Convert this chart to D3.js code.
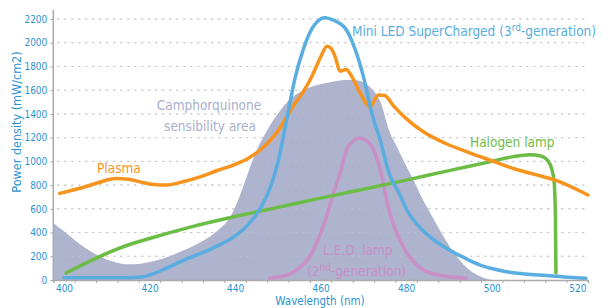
<!DOCTYPE html>
<html>
<head>
<meta charset="utf-8">
<script src="https://cdn.jsdelivr.net/npm/d3@7"></script>
<style>
  body { margin: 0; background: #fff; }
  svg { display: block; font-family: "DejaVu Sans Condensed", "DejaVu Sans", sans-serif; }
</style>
</head>
<body>
<svg id="chart" width="603" height="308"></svg>
<script>
// Data (wavelength nm, power density mW/cm2)
const xLabels = [400, 420, 440, 460, 480, 500, 520];
const yTicks = [0, 200, 400, 600, 800, 1000, 1200, 1400, 1600, 1800, 2000, 2200];

const camphorquinone = [
    [397.5, 480], [400, 410], [404, 295], [408, 205], [412, 150], [415, 132], [418, 138],
    [421, 160], [425, 205], [428, 250], [432, 320], [436, 420], [439, 540], [441, 700],
    [443, 900], [445, 1090], [447, 1230], [449, 1350], [451, 1450], [453, 1530], [455, 1580],
    [458, 1630], [462, 1665], [466, 1685], [468, 1685], [470, 1665], [472, 1610], [474, 1500],
    [476, 1260], [478, 1110], [480, 960], [482, 820], [484, 670], [486, 540], [488, 410],
    [490, 290], [492, 190], [494, 110], [496, 55], [498, 20], [500, 0]
];

const miniLed = [
    [400, 20], [405, 20], [410, 20], [415, 20], [418, 25], [420, 42], [424, 100], [428, 168],
    [432, 225], [436, 290], [440, 370], [443, 465], [446, 610], [448, 760], [450, 990],
    [452, 1340], [454, 1700], [456, 1950], [458, 2120], [460, 2200], [461, 2210],
    [463, 2190], [466, 2110], [468, 1950], [470, 1714], [472, 1400], [474, 1170], [476, 900],
    [478.5, 720], [480, 600], [483, 450], [486, 350], [490, 255], [494, 180], [497, 130],
    [502, 80], [506, 56], [512, 40], [517, 25], [522, 14]
];

const plasma = [
    [399, 730], [404, 775], [408, 820], [412, 855], [415, 850], [418, 825], [421, 805],
    [424, 800], [428, 830], [432, 872], [436, 925], [440, 975], [443, 1025], [446, 1100],
    [448, 1170], [450, 1255], [452, 1370], [454, 1490], [456, 1590], [458, 1720], [460, 1880],
    [461.5, 1970], [462.5, 1950], [463.5, 1870], [464.5, 1760], [466, 1775], [467.2, 1720],
    [469.5, 1560], [471.5, 1460], [473.5, 1560], [475, 1555], [477, 1470], [480, 1360],
    [484, 1250], [489, 1155], [495, 1070], [500, 1005], [505, 940], [510, 890], [515, 840],
    [522.5, 716]
];

const halogen = [
    [400.5, 60], [405, 140], [410, 225], [415, 295], [420, 350], [430, 450], [440, 535],
    [450, 612], [460, 690], [470, 765], [480, 842], [490, 922], [500, 1000], [505, 1040],
    [509, 1056], [511.5, 1045], [513, 1010], [514, 940], [514.6, 820], [514.9, 500], [515, 60]
];

const ledLamp = [
    [448, 15], [452, 40], [455, 100], [457.5, 200], [459.5, 350], [461.5, 550], [463, 730],
    [464.5, 900], [466, 1090], [467.5, 1170], [469, 1195], [470.5, 1180], [472, 1120],
    [473, 1040], [474.5, 850], [475.5, 660], [477, 470], [478.5, 337], [480.5, 210],
    [484, 84], [488, 40], [494, 15]
];

// Setup
const svg = d3.select('#chart');
const translate = (x, y) => `translate(${x}, ${y})`;
const margins = { left: 53.3, right: 588, top: 19, bottom: 280 };

const xScale = d3.scaleLinear().domain([397.5, 522.5]).range([margins.left, margins.right]);
const yScale = d3.scaleLinear().domain([0, 2200]).range([margins.bottom, margins.top]);

const colors = {
    axisText: '#2b93d3',
    axis: '#aaaaaa',
    grid: '#bdbdbd',
    area: '#aeb3ce',
    areaText: '#a9afcb',
    blue: '#59ade0',
    orange: '#f7941d',
    green: '#6cbd45',
    pink: '#c98fc6'
};

// Gridlines
const gridValues = yTicks.filter(d => d > 0);
const drawGrid = (stroke, opacity) => svg.append('g')
    .selectAll('line')
    .data(gridValues)
    .join('line')
    .attr('x1', margins.left + 4)
    .attr('x2', margins.right)
    .attr('y1', d => yScale(d))
    .attr('y2', d => yScale(d))
    .attr('stroke', stroke)
    .attr('stroke-opacity', opacity)
    .attr('stroke-width', 1)
    .attr('stroke-dasharray', '2,5');
drawGrid(colors.grid, 1);

// Camphorquinone area
const area = d3.area()
    .x(d => xScale(d[0]))
    .y0(yScale(0))
    .y1(d => yScale(d[1]))
    .curve(d3.curveMonotoneX);
svg.append('path')
    .datum(camphorquinone)
    .attr('d', area)
    .attr('fill', colors.area);

// Gridlines peeking over the area
drawGrid('#c4c7d6', 0.6);

// Lines
const line = d3.line()
    .x(d => xScale(d[0]))
    .y(d => yScale(d[1]))
    .curve(d3.curveMonotoneX);

const series = [
    { data: ledLamp, color: colors.pink },
    { data: halogen, color: colors.green },
    { data: plasma, color: colors.orange },
    { data: miniLed, color: colors.blue }
];
svg.append('g')
    .selectAll('path')
    .data(series)
    .join('path')
    .attr('d', d => line(d.data))
    .attr('fill', 'none')
    .attr('stroke', d => d.color)
    .attr('stroke-width', 3.5)
    .attr('stroke-linejoin', 'round')
    .attr('stroke-linecap', 'round');

// X axis: tick marks between categories, labels in the middle
const xTickAxis = d3.axisBottom(xScale)
    .tickValues(d3.range(402.5, 523, 5))
    .tickSize(3)
    .tickFormat('');
const xTickG = svg.append('g')
    .attr('transform', translate(0, margins.bottom))
    .call(xTickAxis);
xTickG.select('.domain').attr('stroke', colors.axis).attr('stroke-width', 1.5);
xTickG.selectAll('.tick line').attr('stroke', colors.axis);

const xLabelAxis = d3.axisBottom(xScale)
    .tickValues(xLabels)
    .tickSize(0)
    .tickPadding(5)
    .tickFormat(d3.format('d'));
const xLabelG = svg.append('g')
    .attr('transform', translate(0, margins.bottom))
    .call(xLabelAxis);
xLabelG.select('.domain').remove();
xLabelG.selectAll('text')
    .attr('fill', colors.axisText)
    .attr('font-size', 10)
    .attr('font-family', 'DejaVu Sans Condensed');

// Y axis
const yAxis = d3.axisLeft(yScale)
    .tickValues(yTicks)
    .tickSize(3)
    .tickPadding(3)
    .tickFormat(d3.format('d'));
const yG = svg.append('g')
    .attr('transform', translate(margins.left, 0))
    .call(yAxis);
yG.select('.domain').remove();
yG.selectAll('.tick line').attr('stroke', colors.axis);
yG.selectAll('text')
    .attr('fill', colors.axisText)
    .attr('font-size', 10)
    .attr('font-family', 'DejaVu Sans Condensed');
svg.append('line')
    .attr('x1', margins.left).attr('x2', margins.left)
    .attr('y1', 10).attr('y2', margins.bottom)
    .attr('stroke', colors.axis)
    .attr('stroke-width', 1.5);

// Axis titles
svg.append('text')
    .attr('transform', translate(21, 122) + ' rotate(-90)')
    .attr('text-anchor', 'middle')
    .attr('fill', colors.axisText)
    .attr('font-size', 12.5)
    .text('Power density (mW/cm2)');

svg.append('text')
    .attr('x', 320)
    .attr('y', 305.2)
    .attr('text-anchor', 'middle')
    .attr('fill', colors.axisText)
    .attr('font-size', 11.5)
    .text('Wavelength (nm)');

// Series labels
const label = (x, y, color, anchor = 'start') => svg.append('text')
    .attr('x', x)
    .attr('y', y)
    .attr('fill', color)
    .attr('font-size', 13.5)
    .attr('text-anchor', anchor);

const miniLabel = label(352, 36, colors.blue);
miniLabel.append('tspan').text('Mini LED SuperCharged (3');
miniLabel.append('tspan').attr('dy', -5).attr('font-size', 10).text('rd');
miniLabel.append('tspan').attr('dy', 5).text('-generation)');

label(209, 110, colors.areaText, 'middle').text('Camphorquinone');
label(210, 131, colors.areaText, 'middle').text('sensibility area');

label(97, 173, colors.orange).text('Plasma');
label(470, 147, colors.green).text('Halogen lamp');

label(323, 255, colors.pink).text('L.E.D. lamp');
const ledLabel = label(307, 276, colors.pink);
ledLabel.append('tspan').text('(2');
ledLabel.append('tspan').attr('dy', -5).attr('font-size', 10).text('nd');
ledLabel.append('tspan').attr('dy', 5).text('-generation)');
</script>
</body>
</html>
